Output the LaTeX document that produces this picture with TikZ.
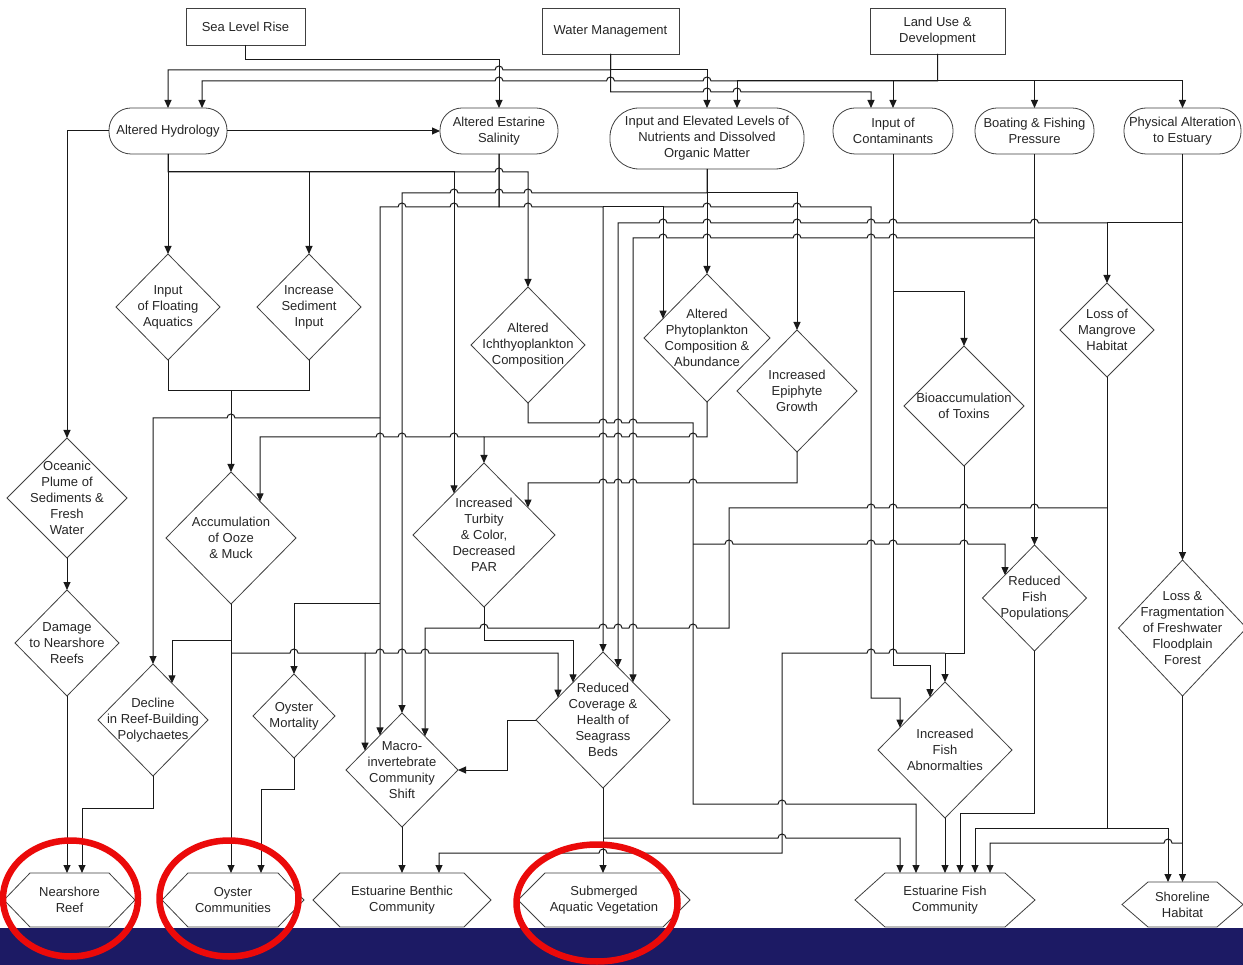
\documentclass[tikz,border=0pt]{standalone}
\usepackage{fontspec}
\setmainfont{Liberation Sans}
\usetikzlibrary{arrows.meta,shapes.geometric,calc}
\definecolor{bandblue}{RGB}{28,26,100}
\definecolor{ringred}{RGB}{235,10,10}
\newcommand\HR[2]{-- ({#1-4},#2) arc[start angle=180,end angle=0,radius=4pt]}
\newcommand\HL[2]{-- ({#1+4},#2) arc[start angle=0,end angle=180,radius=4pt]}
\tikzset{
  conn/.style={line width=1pt, draw=black!90},
  arr/.style={conn, -{Triangle[length=8pt,width=7pt]}},
  shp/.style={draw=black!75, line width=0.8pt},
  txt/.style={align=center, font=\fontsize{13}{16}\selectfont, text=black!85, inner sep=0pt},
  dia/.style={shp, diamond, inner sep=0pt, outer sep=0pt, fill=white},
  term/.style={shp, rectangle, rounded corners=22pt, inner sep=2pt, outer sep=0pt, fill=white, txt},
  boxn/.style={shp, rectangle, inner sep=2pt, outer sep=0pt, fill=white, txt},
  hexc/.style={rectangle, inner sep=0pt, outer sep=0pt, txt},
  ring/.style={draw=ringred, line width=6.5pt}
}
\newcommand\dnode[6]{\node[dia,minimum width=#4pt,minimum height=#5pt] (#1) at (#2,#3) {};
  \node[txt] (#1-t) at (#2,#3) {#6};}
\newcommand\hexnode[7]{%
  \draw[shp,fill=white] ({#2-#4/2},{#3-#5/2}) -- ({#2+#4/2},{#3-#5/2}) -- ({#2+#4/2+#6},#3)
    -- ({#2+#4/2},{#3+#5/2}) -- ({#2-#4/2},{#3+#5/2}) -- ({#2-#4/2-#6},#3) -- cycle;
  \node[hexc,minimum width=#4pt,minimum height=#5pt] (#1) at (#2,#3) {#7};}
\begin{document}
\begin{tikzpicture}[x=1pt,y=-1pt]
\useasboundingbox (0,0) rectangle (1243,965);
\fill[white] (0,0) rectangle (1243,965);

% top boxes
\node[boxn,minimum width=119pt,minimum height=37pt] (slr) at (245.5,26.5) {Sea Level Rise};
\node[boxn,minimum width=137pt,minimum height=46pt] (wm) at (610.5,31) {Water Management};
\node[boxn,minimum width=135pt,minimum height=46pt] (lud) at (937.5,31) {Land Use \&\\Development};

% terminals
\node[term,minimum width=118pt,minimum height=46pt] (hyd) at (168,131) {Altered Hydrology};
\node[term,minimum width=118pt,minimum height=46pt] (sal) at (499,131) {Altered Estarine\\Salinity};
\node[term,minimum width=194pt,minimum height=61pt,rounded corners=29pt] (nut) at (707,138.5) {Input and Elevated Levels of\\Nutrients and Dissolved\\Organic Matter};
\node[term,minimum width=120pt,minimum height=46pt] (con) at (893,131) {Input of\\Contaminants};
\node[term,minimum width=119pt,minimum height=46pt] (boat) at (1034.5,131) {Boating \& Fishing\\Pressure};
\node[term,minimum width=117pt,minimum height=46pt] (phys) at (1182.5,131) {Physical Alteration\\to Estuary};

% diamonds
\dnode{flo}{168}{307}{104}{106}{Input\\of Floating\\Aquatics}
\dnode{sed}{309}{307}{104}{106}{Increase\\Sediment\\Input}
\dnode{ich}{528}{345}{114}{116}{Altered\\Ichthyoplankton\\Composition}
\dnode{phy}{707}{338}{126}{128}{Altered\\Phytoplankton\\Composition \&\\Abundance}
\dnode{epi}{797}{391}{120}{122}{Increased\\Epiphyte\\Growth}
\dnode{bio}{964}{406}{120}{120}{Bioaccumulation\\of Toxins}
\dnode{man}{1107}{330}{94}{94}{Loss of\\Mangrove\\Habitat}
\dnode{oce}{67}{498}{120}{120}{Oceanic\\Plume of\\Sediments \&\\Fresh\\Water}
\dnode{ooz}{231}{538}{130}{132}{Accumulation\\of Ooze\\\& Muck}
\dnode{tur}{484}{535}{142}{144}{Increased\\Turbity\\\& Color,\\Decreased\\PAR}
\dnode{rfp}{1034.5}{598}{104}{106}{Reduced\\Fish\\Populations}
\dnode{flf}{1182.5}{628}{128}{136}{Loss \&\\Fragmentation\\of Freshwater\\Floodplain\\Forest}
\dnode{dam}{67}{643}{104}{106}{Damage\\to Nearshore\\Reefs}
\dnode{dec}{153}{720}{110}{112}{Decline\\in Reef-Building\\Polychaetes}
\dnode{oym}{294}{716}{82}{84}{Oyster\\Mortality}
\dnode{mac}{402}{770}{112}{114}{Macro-\\invertebrate\\Community\\Shift}
\dnode{sea}{603}{720}{134}{136}{Reduced\\Coverage \&\\Health of\\Seagrass\\Beds}
\dnode{fab}{945}{750}{134}{136}{Increased\\Fish\\Abnormalties}

% hexagons
\hexnode{nr}{69.5}{900}{79}{54}{26}{Nearshore\\Reef}
\hexnode{oc}{233}{900}{90}{54}{26}{Oyster\\Communities}
\hexnode{ebc}{402}{900}{124}{54}{27}{Estuarine Benthic\\Community}
\hexnode{sav}{604}{900}{118}{54}{27}{Submerged\\Aquatic Vegetation}
\hexnode{efc}{945}{900}{120}{54}{30}{Estuarine Fish\\Community}
\hexnode{sh}{1182.5}{904.5}{69}{45}{26}{Shoreline\\Habitat}

% ---- connectors ----
% drivers
\draw[arr] (slr.south) -- (245.5,60) -- (499,60) -- (sal.north);
\draw[arr] (wm.south) -- (610.5,70) \HL{499}{70} -- (168,70) -- (hyd.north);
\draw[arr] (wm.south) -- (610.5,70) -- (707,70) -- (nut.north);
\draw[arr] (wm.south) -- (610.5,92) \HR{707}{92} \HR{737}{92} -- (871,92) -- (871,108);
\draw[arr] (lud.south) -- (937.5,81) \HL{707}{81} \HL{610.5}{81} \HL{499}{81} -- (202,81) -- (202,108);
\draw[arr] (lud.south) -- (937.5,81) -- (737,81) -- (737,108);
\draw[arr] (lud.south) -- (937.5,81) -- (893,81) -- (con.north);
\draw[arr] (lud.south) -- (937.5,81) -- (1034.5,81) -- (boat.north);
\draw[arr] (lud.south) -- (937.5,81) -- (1182.5,81) -- (phys.north);

% altered hydrology
\draw[arr] (hyd.east) -- (sal.west);
\draw[arr] (hyd.west) -| (oce.north);
\draw[arr] (hyd.south) -- (flo.north);
\draw[arr] (hyd.south) -- (168,172) -- (309,172) -- (sed.north);
\draw[arr] (hyd.south) -- (168,172) -- (454,172) -- (454,493.4);
\draw[arr] (hyd.south) -- (168,172) -- (454,172) \HR{499}{172} -- (528,172) -- (ich.north);

% salinity
\draw[arr] (sal.south) -- (499,207) \HL{454}{207} \HL{402}{207} -- (380,207) -- (380,735.4);
\draw[arr] (380,418) \HL{231}{418} -- (153,418) -- (dec.north);
\draw[arr] (380,603) -- (294,603) -- (oym.north);
\draw[arr] (sal.south) -- (499,207) \HR{528}{207} -- (603,207) -- (sea.north);
\draw[arr] (603,207) -- (663,207) -- (663,318.7);
\draw[arr] (663,207) \HR{707}{207} \HR{797}{207} -- (871,207) -- (871,698) -- (900,698) -- (900,727.7);

% nutrients
\draw[arr] (nut.south) -- (phy.north);
\draw[arr] (nut.south) -- (707,193) \HL{528}{193} \HL{499}{193} \HL{454}{193} -- (402,193) -- (mac.north);
\draw[arr] (707,193) -- (797,193) -- (epi.north);

% phytoplankton
\draw[arr] (phy.south) -- (707,437) \HL{693}{437} \HL{633}{437} \HL{618}{437} \HL{603}{437} -- (484,437) -- (tur.north);
\draw[arr] (484,437) \HL{454}{437} \HL{402}{437} \HL{380}{437} -- (260,437) -- (260,501.4);

% ichthyoplankton
\draw[arr] (ich.south) -- (528,423) \HR{603}{423} \HR{618}{423} \HR{633}{423} -- (693,423) -- (693,804) \HR{782}{804} -- (916,804) -- (916,873);
\draw[arr] (693,544) \HR{729}{544} \HR{871}{544} \HR{893}{544} \HR{964}{544} -- (1005,544) -- (1005,575.1);

% epiphyte
\draw[arr] (epi.south) -- (797,483) \HL{693}{483} \HL{633}{483} \HL{618}{483} \HL{603}{483} -- (528,483) -- (528,507.6);

% contaminants
\draw[arr] (con.south) -- (893,665) -- (930,665) -- (930,697.2);
\draw[arr] (893,292) -- (964,292) -- (bio.north);

% boating
\draw[arr] (boat.south) -- (rfp.north);
\draw[arr] (1034.5,238) \HL{893}{238} \HL{871}{238} \HL{797}{238} \HL{707}{238} \HL{663}{238} -- (633,238) -- (633,682.4);

% physical alteration
\draw[arr] (phys.south) -- (flf.north);
\draw[arr] (1182.5,223) -- (1107,223) -- (man.north);
\draw[arr] (1107,223) \HL{1034.5}{223} \HL{893}{223} \HL{871}{223} \HL{797}{223} \HL{707}{223} \HL{663}{223} -- (618,223) -- (618,667.2);

% mangrove
\draw[arr] (man.south) -- (1107,828) -- (975,828) -- (975,873);
\draw[arr] (1107,828) -- (1168,828) -- (1168,882);
\draw[arr] (1107,508) \HL{1034.5}{508} \HL{964}{508} \HL{893}{508} \HL{871}{508} -- (729,508) -- (729,628) \HL{693}{628} \HL{633}{628} \HL{618}{628} \HL{603}{628} \HL{484}{628} -- (425,628) -- (425,736.4);

% floodplain forest
\draw[arr] (flf.south) -- (sh.north);
\draw[arr] (1182.5,843) \HL{1168}{843} -- (990,843) -- (990,873);

% reduced fish
\draw[arr] (rfp.south) -- (1034.5,813) -- (960,813) -- (960,873);

% bioaccumulation
\draw[arr] (bio.south) -- (964,653) -- (945,653) -- (fab.north);
\draw[arr] (945,653) \HL{893}{653} \HL{871}{653} -- (782,653) -- (782,853) \HL{603}{853} -- (439,853) -- (439,873);

% seagrass
\draw[arr] (sea.south) -- (603,873);
\draw[arr] (603,838) \HR{782}{838} -- (900,838) -- (900,873);
\draw[arr] (sea.west) -- (507,720) -- (507,770) -- (mac.east);

% fish abnormalities
\draw[arr] (fab.south) -- (efc.north);

% turbidity
\draw[arr] (tur.south) -- (484,640) -- (573,640) -- (573,682.4);

% ooze
\draw[arr] (ooz.south) -- (231,873);
\draw[arr] (231,640) -- (172,640) -- (172,683.3);
\draw[arr] (231,653) \HR{294}{653} -- (365,653) -- (365,750.7);
\draw[arr] (365,653) \HR{380}{653} \HR{402}{653} \HR{425}{653} -- (558,653) -- (558,697.7);

% floating aquatics / sediment
\draw[conn] (flo.south) -- (168,391) -- (309,391) -- (sed.south);
\draw[arr] (231,391) -- (ooz.north);

% left column
\draw[arr] (oce.south) -- (dam.north);
\draw[arr] (dam.south) -- (67,873);
\draw[arr] (dec.south) -- (153,808) -- (82,808) -- (82,873);
\draw[arr] (oym.south) -- (294,789) -- (261,789) -- (261,873);
\draw[arr] (mac.south) -- (ebc.north);

% bottom band and highlight rings
\fill[bandblue] (0,928) rectangle (1243,965);
\draw[ring] (70.5,898.5) ellipse[x radius=67.5pt, y radius=58pt];
\draw[ring] (229,898.5) ellipse[x radius=69.5pt, y radius=58pt];
\draw[ring] (597,903) ellipse[x radius=80.5pt, y radius=58.5pt];
\end{tikzpicture}
\end{document}
